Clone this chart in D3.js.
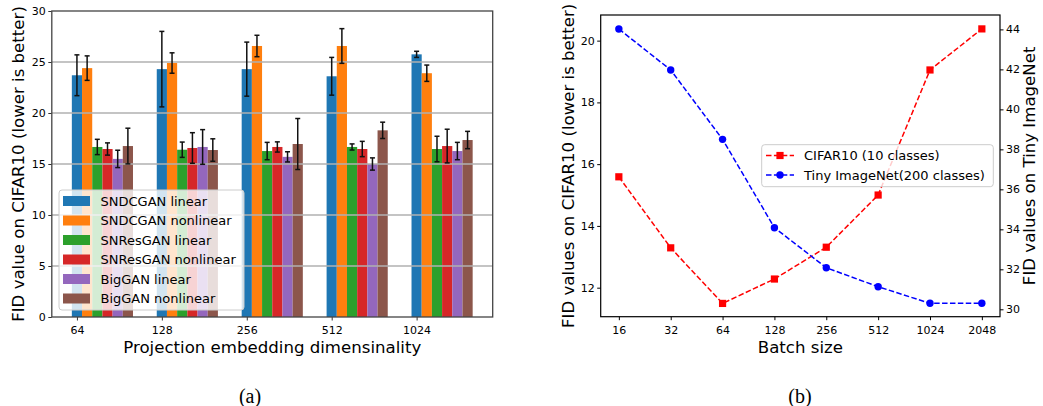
<!DOCTYPE html>
<html>
<meta charset="utf-8">
<head>
<script src="https://d3js.org/d3.v7.min.js"></script>
<style>
  body { margin: 0; background: #fff; }
  svg text { font-family: "DejaVu Sans", sans-serif; fill: #000; }
  .tick text { font-size: 11px; }
  .axis-label { font-size: 16.6px; }
  .caption { font-family: "Liberation Serif", serif; font-size: 20px; }
</style>
</head>
<body>
<div id="chart"></div>
<script>
// ---- data: panel (a) ----
var dims = ["64", "128", "256", "512", "1024"];
var models = ["SNDCGAN linear", "SNDCGAN nonlinear", "SNResGAN linear",
              "SNResGAN nonlinear", "BigGAN linear", "BigGAN nonlinear"];
var modelColors = ["#1f77b4", "#ff7f0e", "#2ca02c", "#d62728", "#9467bd", "#8c564b"];
var sndcganLin    = [23.7, 24.3, 24.3, 23.6, 25.75];
var sndcganNonlin = [24.4, 24.9, 26.57, 26.57, 23.9];
var snresLin      = [16.67, 16.4, 16.27, 16.67, 16.47];
var snresNonlin   = [16.47, 16.57, 16.67, 16.47, 16.76];
var bigganLin     = [15.5, 16.67, 15.7, 15.0, 16.27];
var bigganNonlin  = [16.76, 16.37, 16.96, 18.3, 17.35];
var sndcganLinErr    = [2.0, 3.7, 2.65, 1.85, 0.3];
var sndcganNonlinErr = [1.2, 1.0, 1.05, 1.7, 0.8];
var snresLinErr      = [0.75, 0.75, 0.85, 0.3, 1.25];
var snresNonlinErr   = [0.6, 1.5, 0.5, 0.75, 1.65];
var bigganLinErr     = [0.85, 1.7, 0.5, 0.6, 0.85];
var bigganNonlinErr  = [1.75, 1.1, 2.5, 0.8, 0.85];
var fidTicks = [0, 5, 10, 15, 20, 25, 30];

// ---- data: panel (b) ----
var batchSizes = ["16", "32", "64", "128", "256", "512", "1024", "2048"];
var cifarFid = [15.59, 13.29, 11.49, 12.28, 13.31, 15.0, 19.05, 20.38];
var tinyFid  = [44.02, 41.97, 38.5, 34.08, 32.08, 31.13, 30.3, 30.3];
var cifarTicks = [12, 14, 16, 18, 20];
var tinyTicks = [30, 32, 34, 36, 38, 40, 42, 44];

var means = [sndcganLin, sndcganNonlin, snresLin, snresNonlin, bigganLin, bigganNonlin];
var errs  = [sndcganLinErr, sndcganNonlinErr, snresLinErr, snresNonlinErr, bigganLinErr, bigganNonlinErr];

var svg = d3.select("#chart").append("svg")
    .attr("width", 1043)
    .attr("height", 406);

// ================= panel (a) =================
var barW = 0.12;
var ax = {left: 51.8, right: 492.7, top: 11, bottom: 317};
var x1 = d3.scaleLinear().domain([-0.296, 4.896]).range([ax.left, ax.right]);
var y1 = d3.scaleLinear().domain([0, 30]).range([ax.bottom, ax.top]);

var gA = svg.append("g");

// bars
means.forEach(function(series, j) {
  gA.selectAll(".bar" + j)
    .data(series)
    .enter().append("rect")
    .attr("x", function(d, i) { return x1(i + j * barW - barW / 2); })
    .attr("width", x1(barW) - x1(0))
    .attr("y", function(d) { return y1(d); })
    .attr("height", function(d) { return y1(0) - y1(d); })
    .attr("fill", modelColors[j]);
});

// grid (matplotlib puts it above patches)
gA.selectAll(".grid")
  .data(fidTicks.slice(1, -1))
  .enter().append("line")
  .attr("x1", ax.left).attr("x2", ax.right)
  .attr("y1", function(d) { return y1(d); })
  .attr("y2", function(d) { return y1(d); })
  .attr("stroke", "#b0b0b0")
  .attr("stroke-width", 1.4);

// error bars
means.forEach(function(series, j) {
  series.forEach(function(m, i) {
    var cx = x1(i + j * barW);
    var lo = y1(m - errs[j][i]), hi = y1(m + errs[j][i]);
    gA.append("line").attr("x1", cx).attr("x2", cx).attr("y1", lo).attr("y2", hi)
      .attr("stroke", "#111").attr("stroke-width", 1.5);
    [lo, hi].forEach(function(yy) {
      gA.append("line").attr("x1", cx - 2.5).attr("x2", cx + 2.5).attr("y1", yy).attr("y2", yy)
        .attr("stroke", "#111").attr("stroke-width", 1.5);
    });
  });
});

// axes
var xAxisA = d3.axisBottom(x1).tickValues(d3.range(dims.length))
    .tickFormat(function(d) { return dims[d]; }).tickSize(3.5).tickSizeOuter(0);
var yAxisA = d3.axisLeft(y1).tickValues(fidTicks).tickSize(3.5).tickSizeOuter(0);

var gxA = gA.append("g").attr("transform", "translate(0," + ax.bottom + ")").call(xAxisA);
var gyA = gA.append("g").attr("transform", "translate(" + ax.left + ",0)").call(yAxisA);
[gxA, gyA].forEach(function(g) {
  g.select(".domain").remove();
  g.selectAll(".tick line").attr("stroke", "#333");
  g.selectAll(".tick text").attr("fill", "#222");
});
gxA.selectAll(".tick text").attr("dy", "0.95em");
gyA.selectAll(".tick text").attr("x", -6);

gA.append("rect")
  .attr("x", ax.left).attr("y", ax.top)
  .attr("width", ax.right - ax.left).attr("height", ax.bottom - ax.top)
  .attr("fill", "none").attr("stroke", "#444").attr("stroke-width", 1.3);

gA.append("text").attr("class", "axis-label")
  .attr("x", (ax.left + ax.right) / 2).attr("y", 352.5)
  .attr("text-anchor", "middle")
  .text("Projection embedding dimensinality");
gA.append("text").attr("class", "axis-label")
  .attr("transform", "translate(24," + (ax.top + ax.bottom) / 2 + ") rotate(-90)")
  .attr("text-anchor", "middle")
  .text("FID value on CIFAR10 (lower is better)");

// legend
var legA = gA.append("g");
legA.append("rect")
  .attr("x", 59).attr("y", 190).attr("width", 185).attr("height", 120)
  .attr("rx", 3).attr("fill", "#fff").attr("fill-opacity", 0.8)
  .attr("stroke", "#cccccc").attr("stroke-width", 1);
models.forEach(function(name, j) {
  var cy = 201 + j * 19.5;
  legA.append("rect").attr("x", 63).attr("y", cy - 5).attr("width", 27).attr("height", 10)
    .attr("fill", modelColors[j]);
  legA.append("text").attr("x", 100.5).attr("y", cy).attr("dy", "0.36em")
    .style("font-size", "13px").text(name);
});

svg.append("text").attr("class", "caption")
  .attr("x", 250).attr("y", 403).attr("text-anchor", "middle").text("(a)");

// ================= panel (b) =================
var bx = {left: 600.7, right: 1000, top: 15, bottom: 316.7};
var x2 = d3.scaleLinear().domain([-0.35, 7.35]).range([bx.left, bx.right]);
var y2 = d3.scaleLinear().domain([11.06, 20.83]).range([bx.bottom, bx.top]);
var y3 = d3.scaleLinear().domain([29.63, 44.72]).range([bx.bottom, bx.top]);

var gB = svg.append("g");

var lineC = d3.line().x(function(d, i) { return x2(i); }).y(function(d) { return y2(d); });
var lineT = d3.line().x(function(d, i) { return x2(i); }).y(function(d) { return y3(d); });

gB.append("path").datum(cifarFid).attr("d", lineC)
  .attr("fill", "none").attr("stroke", "#ff0000").attr("stroke-width", 1.5)
  .attr("stroke-dasharray", "5.5,2.4");
gB.selectAll(".sq").data(cifarFid).enter().append("rect")
  .attr("x", function(d, i) { return x2(i) - 3.6; })
  .attr("y", function(d) { return y2(d) - 3.6; })
  .attr("width", 7.2).attr("height", 7.2).attr("fill", "#ff0000");

gB.append("path").datum(tinyFid).attr("d", lineT)
  .attr("fill", "none").attr("stroke", "#0000ff").attr("stroke-width", 1.5)
  .attr("stroke-dasharray", "5.5,2.4");
gB.selectAll(".dot").data(tinyFid).enter().append("circle")
  .attr("cx", function(d, i) { return x2(i); })
  .attr("cy", function(d) { return y3(d); })
  .attr("r", 3.7).attr("fill", "#0000ff");

var xAxisB = d3.axisBottom(x2).tickValues(d3.range(batchSizes.length))
    .tickFormat(function(d) { return batchSizes[d]; }).tickSize(3.5).tickSizeOuter(0);
var yAxisB = d3.axisLeft(y2).tickValues(cifarTicks).tickSize(3.5).tickSizeOuter(0);
var yAxisB2 = d3.axisRight(y3).tickValues(tinyTicks).tickSize(3.5).tickSizeOuter(0);

var gxB = gB.append("g").attr("transform", "translate(0," + bx.bottom + ")").call(xAxisB);
var gyB = gB.append("g").attr("transform", "translate(" + bx.left + ",0)").call(yAxisB);
var gyB2 = gB.append("g").attr("transform", "translate(" + bx.right + ",0)").call(yAxisB2);
[gxB, gyB, gyB2].forEach(function(g) {
  g.select(".domain").remove();
  g.selectAll(".tick line").attr("stroke", "#000");
  g.selectAll(".tick text").attr("fill", "#222");
});
gxB.selectAll(".tick text").attr("dy", "0.95em");
gyB.selectAll(".tick text").attr("x", -6);
gyB2.selectAll(".tick text").attr("x", 6);

gB.append("rect")
  .attr("x", bx.left).attr("y", bx.top)
  .attr("width", bx.right - bx.left).attr("height", bx.bottom - bx.top)
  .attr("fill", "none").attr("stroke", "#000").attr("stroke-width", 1.2);

gB.append("text").attr("class", "axis-label")
  .attr("x", (bx.left + bx.right) / 2).attr("y", 352.5)
  .attr("text-anchor", "middle")
  .text("Batch size");
gB.append("text").attr("class", "axis-label")
  .attr("transform", "translate(574," + (bx.top + bx.bottom) / 2 + ") rotate(-90)")
  .attr("text-anchor", "middle")
  .text("FID values on CIFAR10 (lower is better)");
gB.append("text").attr("class", "axis-label")
  .attr("transform", "translate(1035," + (bx.top + bx.bottom) / 2 + ") rotate(-90)")
  .attr("text-anchor", "middle")
  .text("FID values on Tiny ImageNet");

// legend
var legB = gB.append("g");
legB.append("rect")
  .attr("x", 761.7).attr("y", 144.7).attr("width", 231.6).attr("height", 42)
  .attr("rx", 3).attr("fill", "#fff").attr("fill-opacity", 0.8)
  .attr("stroke", "#cccccc").attr("stroke-width", 1);
var legItems = [
  {label: "CIFAR10 (10 classes)", color: "#ff0000", mark: "sq"},
  {label: "Tiny ImageNet(200 classes)", color: "#0000ff", mark: "dot"}
];
legItems.forEach(function(it, k) {
  var cy = 155.5 + k * 19.5;
  legB.append("line").attr("x1", 766).attr("x2", 794).attr("y1", cy).attr("y2", cy)
    .attr("stroke", it.color).attr("stroke-width", 1.5).attr("stroke-dasharray", "5.5,2.4");
  if (it.mark === "sq") {
    legB.append("rect").attr("x", 780 - 3.6).attr("y", cy - 3.6)
      .attr("width", 7.2).attr("height", 7.2).attr("fill", it.color);
  } else {
    legB.append("circle").attr("cx", 780).attr("cy", cy).attr("r", 3.7).attr("fill", it.color);
  }
  legB.append("text").attr("x", 804).attr("y", cy).attr("dy", "0.36em")
    .style("font-size", "13px").text(it.label);
});

svg.append("text").attr("class", "caption")
  .attr("x", 800).attr("y", 403).attr("text-anchor", "middle").text("(b)");
</script>
</body>
</html>
